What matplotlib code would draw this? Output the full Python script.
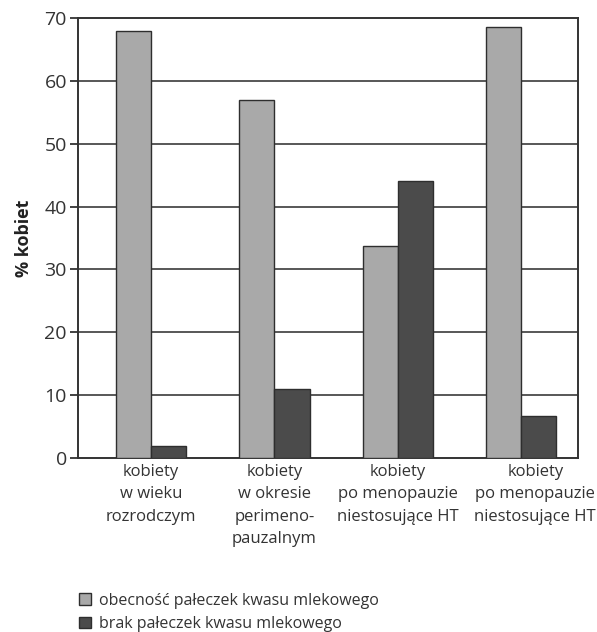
import numpy as np
import matplotlib.pyplot as plt
import matplotlib.transforms as mtransforms
from matplotlib.patches import Patch

# data
categories = ['kobiety\nw wieku\nrozrodczym',
              'kobiety\nw okresie\nperimeno-\npauzalnym',
              'kobiety\npo menopauzie\nniestosujące HT',
              'kobiety\npo menopauzie\nniestosujące HT']
obecnosc = [68.0, 57.0, 33.7, 68.5]
brak = [1.9, 11.0, 44.0, 6.7]
series_labels = ['obecność pałeczek kwasu mlekowego',
                 'brak pałeczek kwasu mlekowego']
yticks = [0, 10, 20, 30, 40, 50, 60, 70]

plt.rcParams['font.family'] = ['Open Sans', 'DejaVu Sans']

light = '#a9a9a9'
dark = '#4b4b4b'
edge = '#2e2e2e'

fig = plt.figure(figsize=(5.97, 6.32), dpi=100)
ax = fig.add_axes([0.1307, 0.2753, 0.8376, 0.6962])

x = np.arange(len(categories))
w = 0.285
ax.bar(x - w/2, obecnosc, w, color=light, edgecolor=edge, linewidth=1.0, zorder=3)
ax.bar(x + w/2, brak, w, color=dark, edgecolor=edge, linewidth=1.0, zorder=3)

ax.set_xlim(-0.59, 3.46)
ax.set_ylim(0, 70)
ax.set_yticks(yticks)
for v in yticks[1:-1]:
    ax.axhline(v, color='#4a4a4a', linewidth=1.3, zorder=1)

for s in ax.spines.values():
    s.set_color('#333333')
    s.set_linewidth(1.4)

ax.tick_params(axis='y', direction='out', length=6, width=1.3, color='#333333',
               labelsize=14, labelcolor='#333333', pad=2)
ax.set_xticks(x)
ax.set_xticklabels(categories, fontsize=12, color='#333333', linespacing=1.55)
ax.tick_params(axis='x', length=0, pad=4)

# last label sits a bit to the right in the original
lab = ax.get_xticklabels()[3]
lab.set_transform(lab.get_transform() + mtransforms.ScaledTranslation(0.14, 0, fig.dpi_scale_trans))

ax.set_ylabel('% kobiet', fontsize=13, fontweight='bold', color='#222222', labelpad=8)

handles = [Patch(facecolor=light, edgecolor=edge, linewidth=1.0),
           Patch(facecolor=dark, edgecolor=edge, linewidth=1.0)]
fig.legend(handles, series_labels, loc='upper left', bbox_to_anchor=(0.133, 0.062),
           bbox_transform=fig.transFigure, frameon=False, fontsize=11.5,
           handlelength=0.75, handleheight=0.75, handletextpad=0.45, labelspacing=0.45,
           borderaxespad=0, borderpad=0, labelcolor='#333333')

fig.savefig('out.png', dpi=100)
